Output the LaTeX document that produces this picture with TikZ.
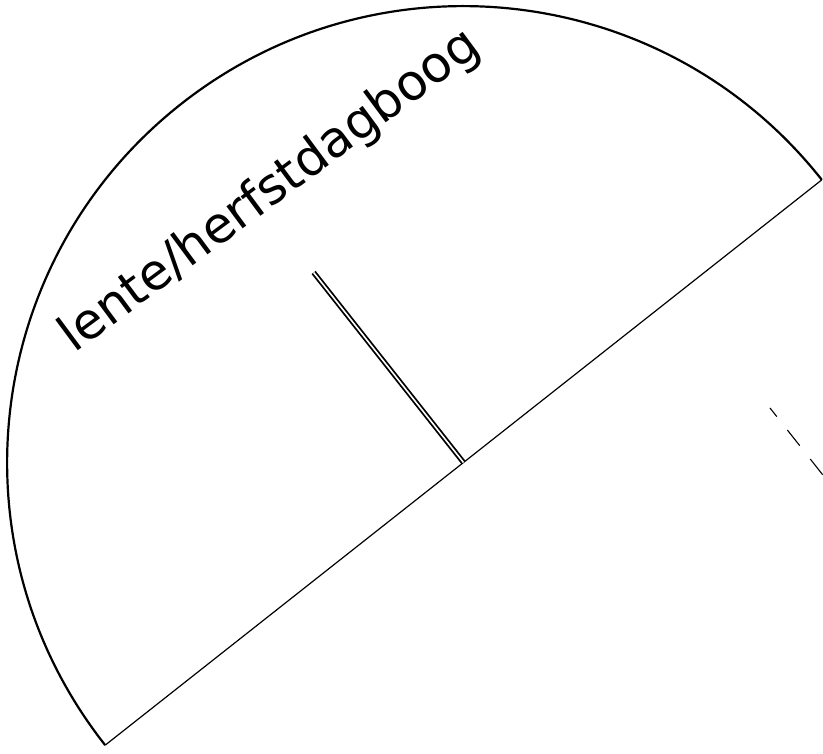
\documentclass[tikz,border=0pt]{standalone}
\usepackage{fontspec}
\setmainfont{DejaVu Sans}
\tikzset{
  rim/.style={line width=2.2pt},
  diam/.style={line width=1.2pt},
  gnomon/.style={double, line width=1.8pt, double distance=1.6pt},
  shadowline/.style={line width=1.1pt, dash pattern=on 20pt off 17pt, dash phase=9pt},
  arclabel/.style={anchor=base west, rotate=36.5, inner sep=0pt, font=\fontsize{50}{60}\selectfont}
}
\begin{document}
\begin{tikzpicture}[x=1pt,y=1pt]
\useasboundingbox (0,0) rectangle (823,754);
\clip (0,0) rectangle (823,754);
\coordinate (C) at (463.5,291.5);
\coordinate (A) at ([shift={(38.27:456.4)}]C);
\coordinate (B) at ([shift={(218.27:456.4)}]C);
\coordinate (G) at ([shift={(128.27:242)}]C);
\coordinate (D1) at (770,346);
\coordinate (D2) at ([shift={(-51.73:200)}]D1);
\draw[rim] (A) arc[start angle=38.27, end angle=218.27, radius=456.4];
\draw[diam] (B) -- (A);
\draw[gnomon] (C) -- (G);
\draw[shadowline] (D1) -- (D2);
\node[arclabel] (lbl) at (74,400) {lente/herfstdagboog};
\end{tikzpicture}
\end{document}
